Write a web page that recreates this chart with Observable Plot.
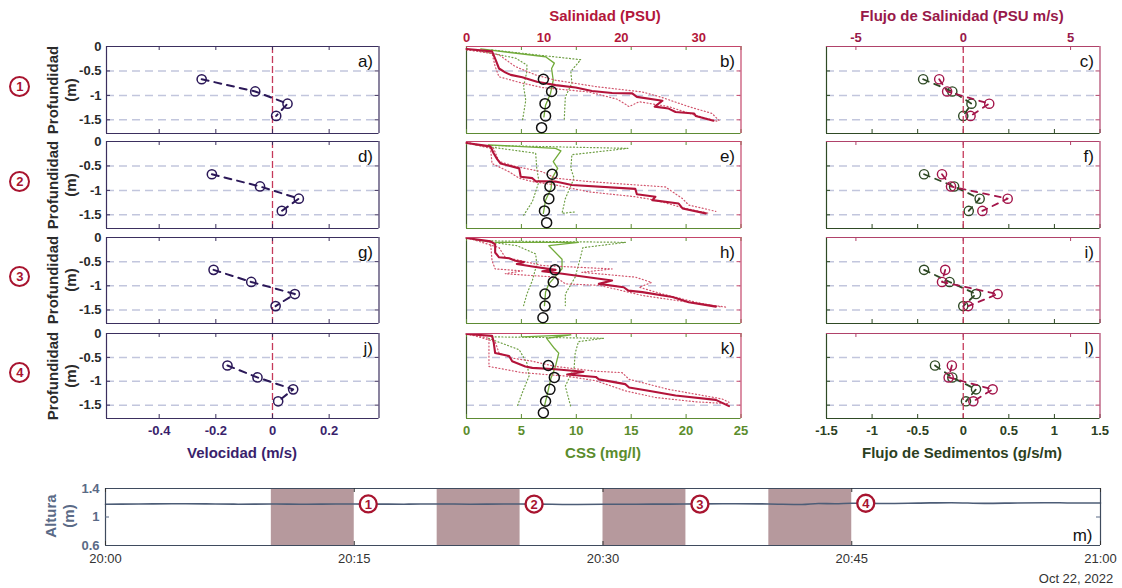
<!DOCTYPE html>
<html>
<head>
<meta charset="utf-8">
<script src="https://cdn.jsdelivr.net/npm/d3@7"></script>
<script src="https://cdn.jsdelivr.net/npm/@observablehq/plot@0.6"></script>
<style>
  body { margin: 0; background: #fff; }
  #fig { position: relative; width: 1122px; height: 588px; overflow: hidden;
         font-family: "Liberation Sans", Arial, sans-serif; background: #fff; }
  .lbl { position: absolute; white-space: nowrap; font-weight: bold; font-size: 15px; line-height: 1; }
  .circ { position: absolute; width: 17px; height: 17px; border: 2.2px solid #a8142f; border-radius: 50%;
          color: #a8142f; font: bold 13px/17px "Liberation Sans", Arial, sans-serif; text-align: center; }
</style>
</head>
<body>
<div id="fig"></div>
<script>
// ---------- data ----------
// ADCP bin depths (m) and velocity profiles (m/s) per cast
const binDepths = [-0.67, -0.92, -1.17, -1.42];
const velocity1 = [-0.250, -0.061, 0.053, 0.013];
const velocity2 = [-0.214, -0.044, 0.093, 0.033];
const velocity3 = [-0.208, -0.075, 0.079, 0.011];
const velocity4 = [-0.159, -0.053, 0.073, 0.020];

// backscatter-derived suspended sediment (mg/l) at ADCP bins
const cssBinDepths = [-0.67, -0.92, -1.17, -1.42, -1.66];
const cssBins1 = [7.0, 7.75, 7.15, 7.2, 6.84];
const cssBins2 = [7.8, 7.6, 7.5, 7.1, 7.3];
const cssBins3 = [8.06, 7.9, 7.15, 7.15, 6.96];
const cssBins4 = [7.45, 8.0, 7.6, 7.2, 7.0];

// CTD salinity profiles [PSU, depth] : mean, lower and upper envelope
const sal1 = [[0,-0.05],[3.3,-0.1],[3.75,-0.27],[4.2,-0.45],[5.0,-0.53],[5.7,-0.58],[7.2,-0.63],[9.1,-0.72],[11.5,-0.79],[14.1,-0.84],[16.2,-0.91],[18.8,-0.95],[21.4,-0.96],[22.0,-1.03],[25.3,-1.11],[24.3,-1.23],[26.1,-1.27],[27.0,-1.34],[29.4,-1.37],[29.6,-1.42],[31.9,-1.52]];
const sal1Lo = [[0,-0.07],[3.3,-0.14],[3.7,-0.41],[4.2,-0.62],[7.2,-0.75],[9.8,-0.84],[15.8,-0.93],[19.5,-1.08],[21.0,-1.23],[22.3,-1.13],[26.1,-1.23],[29.6,-1.41],[32.6,-1.54]];
const sal1Hi = [[0,-0.05],[4.2,-0.17],[6.3,-0.41],[8.9,-0.58],[11.5,-0.69],[16.7,-0.82],[22.7,-0.93],[25.0,-1.03],[28.7,-1.23],[31.7,-1.37],[32.6,-1.51]];
const sal2 = [[0,-0.03],[3.1,-0.1],[3.5,-0.24],[3.96,-0.36],[4.4,-0.45],[6.8,-0.55],[7.0,-0.72],[8.5,-0.75],[8.9,-0.81],[11.5,-0.82],[13.6,-0.89],[21.8,-0.97],[22.0,-1.08],[24.4,-1.13],[24.0,-1.2],[27.4,-1.27],[27.9,-1.37],[30.9,-1.47]];
const sal2Lo = [[0,-0.03],[3.1,-0.14],[3.3,-0.45],[5.5,-0.62],[6.8,-0.75],[8.5,-0.82],[11.5,-0.89],[15.8,-1.03],[21.8,-1.13],[24.4,-1.2],[28.3,-1.37],[31.3,-1.47]];
const sal2Hi = [[0,-0.01],[3.5,-0.14],[4.2,-0.41],[6.3,-0.51],[9.8,-0.62],[11.5,-0.75],[15.8,-0.82],[25.7,-0.93],[27.9,-1.17],[28.7,-1.3],[32.2,-1.43]];
const sal3 = [[0,-0.01],[3.1,-0.08],[3.7,-0.14],[3.7,-0.31],[4.2,-0.41],[5.5,-0.43],[6.3,-0.48],[7.4,-0.51],[6.5,-0.55],[8.5,-0.6],[11.5,-0.67],[9.8,-0.7],[12.4,-0.75],[18.8,-0.89],[17.1,-0.96],[20.3,-1.03],[20.9,-1.1],[22.7,-1.13],[26.6,-1.23],[28.7,-1.34],[32.2,-1.43]];
const sal3Lo = [[0,-0.01],[3.1,-0.1],[3.3,-0.48],[3.7,-0.65],[7.2,-0.69],[5.0,-0.75],[11.5,-0.82],[12.8,-0.96],[17.1,-0.99],[20.1,-1.1],[22.7,-1.2],[28.7,-1.34],[33.5,-1.44]];
const sal3Hi = [[0,0],[4.2,-0.21],[5.0,-0.41],[9.8,-0.58],[18.8,-0.65],[14.9,-0.72],[21.8,-0.82],[23.9,-0.93],[22.3,-1.03],[25.3,-1.17],[29.6,-1.34],[33.0,-1.44]];
const sal4 = [[0,-0.01],[3.3,-0.05],[3.5,-0.17],[3.7,-0.41],[5.5,-0.47],[5.9,-0.58],[7.6,-0.69],[8.5,-0.72],[11.5,-0.75],[15.1,-0.8],[13.0,-0.86],[16.7,-0.91],[17.1,-0.96],[20.5,-1.06],[21.0,-1.13],[23.5,-1.2],[27.0,-1.3],[32.2,-1.39],[33.9,-1.52]];
const sal4Lo = [[0,-0.01],[2.9,-0.1],[2.9,-0.69],[7.2,-0.82],[12.8,-0.89],[16.7,-0.99],[20.5,-1.2],[24.4,-1.34],[29.6,-1.43],[33.9,-1.47]];
const sal4Hi = [[0,0],[3.7,-0.17],[4.2,-0.41],[5.7,-0.51],[8.5,-0.58],[11.5,-0.69],[16.7,-0.79],[20.1,-0.82],[21.0,-0.96],[26.1,-1.17],[33.0,-1.37],[33.9,-1.44]];

// CTD turbidity-derived CSS profiles [mg/l, depth] : mean, lower and upper envelope
const css1 = [[1.3,-0.05],[7.2,-0.21],[8.0,-0.34],[7.75,-0.45],[7.9,-0.69],[7.65,-0.96],[7.2,-1.2],[7.05,-1.44]];
const css1Lo = [[0.8,-0.07],[4.5,-0.24],[5.5,-0.38],[5.5,-0.51],[5.2,-0.82],[5.4,-1.1],[5.1,-1.51]];
const css1Hi = [[2.3,-0.07],[10.4,-0.27],[9.5,-0.51],[9.6,-0.75],[9.0,-1.03],[8.9,-1.51]];
const css2 = [[2.0,-0.07],[8.1,-0.14],[8.6,-0.19],[7.9,-0.41],[8.3,-0.55],[7.8,-0.75],[7.7,-0.96],[7.2,-1.2],[7.0,-1.47]];
const css2Lo = [[0.8,-0.07],[6.3,-0.24],[6.4,-0.55],[6.6,-0.82],[6.0,-1.23],[5.2,-1.51]];
const css2Hi = [[2.0,-0.08],[14.7,-0.14],[9.6,-0.27],[9.5,-0.55],[9.8,-0.75],[9.0,-1.17],[8.7,-1.47],[9.9,-1.44]];
const css3 = [[2.6,-0.1],[10.2,-0.1],[7.5,-0.17],[8.7,-0.45],[8.7,-0.65],[7.5,-0.96],[7.2,-1.13],[7.1,-1.41]];
const css3Lo = [[0.8,-0.05],[4.6,-0.17],[6.3,-0.34],[6.4,-0.55],[6.0,-0.89],[5.5,-1.17],[5.2,-1.41]];
const css3Hi = [[2.0,-0.07],[14.5,-0.1],[10.6,-0.21],[10.3,-0.48],[9.9,-0.82],[9.0,-1.17],[9.0,-1.41]];
const css4 = [[5.1,-0.07],[9.5,-0.03],[7.3,-0.1],[8.0,-0.31],[8.4,-0.41],[8.1,-0.69],[7.7,-0.93],[7.4,-1.23],[7.1,-1.52]];
const css4Lo = [[2.0,-0.1],[4.8,-0.34],[5.5,-0.62],[5.7,-0.89],[5.1,-1.23],[4.6,-1.54]];
const css4Hi = [[2.3,-0.07],[12.5,-0.1],[10.2,-0.17],[9.9,-0.41],[9.8,-0.72],[9.0,-1.1],[9.5,-1.54]];

// fluxes at ADCP bins: salinity (PSU m/s) and sediment (g/s/m)
const salFlux1 = [-1.12, -0.75, 1.21, 0.34];
const salFlux2 = [-0.99, -0.57, 2.07, 0.89];
const salFlux3 = [-0.84, -0.99, 1.60, 0.23];
const salFlux4 = [-0.53, -0.68, 1.37, 0.47];
const sedFlux1 = [-0.44, -0.12, 0.09, 0.00];
const sedFlux2 = [-0.43, -0.10, 0.18, 0.06];
const sedFlux3 = [-0.43, -0.15, 0.14, 0.00];
const sedFlux4 = [-0.31, -0.12, 0.14, 0.03];

// water level (m) vs minutes after 20:00, 22 Oct 2022
const levelMinutes = [0,2,4,6,8,10,12,14,16,18,20,22,24,26,28,30,32,34,36,38,40,42,43,44,45,47,49,51,53,55,57,58,60];
const levelValues  = [1.180,1.182,1.186,1.184,1.180,1.182,1.179,1.183,1.181,1.180,1.183,1.180,1.182,1.181,1.176,1.179,1.180,1.181,1.184,1.186,1.183,1.176,1.190,1.186,1.193,1.190,1.195,1.201,1.191,1.197,1.201,1.197,1.196];
// profiling windows (minutes after 20:00)
const castStart = [10, 20, 30, 40];
const castEnd   = [15, 25, 35, 45];
const castLabels = ["1", "2", "3", "4"];

// tick values
const depthTicks = [0, -0.5, -1, -1.5];
const gridDepths = [-0.5, -1, -1.5];
const velTicks = [-0.4, -0.2, 0, 0.2];
const salTicks = [0, 10, 20, 30];
const cssTicks = [0, 5, 10, 15, 20, 25];
const salFluxTicks = [-5, 0, 5];
const sedFluxTicks = [-1.5, -1, -0.5, 0, 0.5, 1, 1.5];
const levelTicks = [0.6, 1, 1.4];

// ---------- styling ----------
const FONT = '"Liberation Sans", Arial, sans-serif';
const PURPLE = "#2b1858", PURPLE_T = "#3a1f6c", PURPLE_F = "#3b2f5e";
const RED = "#b3143a", RED_DOT = "#d2566e", RED_F = "#c4456a", RED_T = "#b3173b";
const GREEN = "#72ab3a", GREEN_DOT = "#6f9f45", GREEN_F = "#5d8b33", GREEN_T = "#5b8c2c";
const MAROON = "#a3154a", MAROON_F = "#b0426a", MAROON_T = "#98194a";
const DKGREEN = "#2f4a25", DKGREEN_T = "#2c3f22";
const GRID_C = "#c2c6dd", ZERO_C = "#c5395a";
const SLATE = "#4d5d77", SLATE_T = "#5a6a86";
const DOTS = "1,2.4";

const ROW_TOP = [46, 141, 237, 333];
const ROW_H = [87, 87, 86, 85];
const DEPTH_DOMAIN = [-1.78, 0];
const COL = {
  vel: {left: 105.5, w: 272.5, domain: [-0.586, 0.376]},
  mid: {left: 466, w: 274.5},
  flx: {left: 826, w: 273.5}
};
const SAL_DOMAIN = [0, 35.45], CSS_DOMAIN = [0, 25];
const SALF_DOMAIN = [-6.37, 6.37], SEDF_DOMAIN = [-1.5, 1.5];

const fig = document.getElementById("fig");
const M = 34;

function panel({left, top, w, h, xd, yd, xtype, marks}) {
  const svg = Plot.plot({
    width: w + 2 * M, height: h + 2 * M, margin: M,
    x: {domain: xd, axis: null, type: xtype || "linear"},
    y: {domain: yd, axis: null},
    style: {background: "none", overflow: "visible", fontFamily: FONT, color: "#222"},
    marks
  });
  svg.style.position = "absolute";
  svg.style.left = (left - M) + "px";
  svg.style.top = (top - M) + "px";
  svg.style.maxWidth = "none";
  fig.append(svg);
}

// helpers for frame sides and inward ticks
const sideTop = (yd, c) => Plot.ruleY([yd[1]], {stroke: c, strokeWidth: 1.2});
const sideBottom = (yd, c) => Plot.ruleY([yd[0]], {stroke: c, strokeWidth: 1.2});
const sideLeft = (xd, c) => Plot.ruleX([xd[0]], {stroke: c, strokeWidth: 1.2});
const sideRight = (xd, c) => Plot.ruleX([xd[1]], {stroke: c, strokeWidth: 1.2});
const ticksTop = (vals, h, c) => Plot.ruleX(vals, {stroke: c, insetBottom: h - 4});
const ticksBottom = (vals, h, c) => Plot.ruleX(vals, {stroke: c, insetTop: h - 4});
const ticksLeft = (vals, w, c) => Plot.ruleY(vals, {stroke: c, insetRight: w - 4});
const ticksRight = (vals, w, c) => Plot.ruleY(vals, {stroke: c, insetLeft: w - 4});
const grid = () => Plot.ruleY(gridDepths, {stroke: GRID_C, strokeDasharray: "8,5", strokeWidth: 1.5});
const letter = (t) => Plot.text([t], {frameAnchor: "top-right", text: d => d, dx: -6, dy: 8, lineAnchor: "top", fontSize: 17, fill: "#111"});
const num = d => String(d);
const pv = d => d[0], pz = d => d[1];

const velocities = [velocity1, velocity2, velocity3, velocity4];
const cssBins = [cssBins1, cssBins2, cssBins3, cssBins4];
const sals = [[sal1, sal1Lo, sal1Hi], [sal2, sal2Lo, sal2Hi], [sal3, sal3Lo, sal3Hi], [sal4, sal4Lo, sal4Hi]];
const csss = [[css1, css1Lo, css1Hi], [css2, css2Lo, css2Hi], [css3, css3Lo, css3Hi], [css4, css4Lo, css4Hi]];
const salFluxes = [salFlux1, salFlux2, salFlux3, salFlux4];
const sedFluxes = [sedFlux1, sedFlux2, sedFlux3, sedFlux4];
const letters = [["a)", "b)", "c)"], ["d)", "e)", "f)"], ["g)", "h)", "i)"], ["j)", "k)", "l)"]];

for (let r = 0; r < 4; r++) {
  const top = ROW_TOP[r], h = ROW_H[r];
  const first = r === 0, last = r === 3;

  // --- velocity column ---
  const vd = COL.vel.domain;
  const vel = velocities[r].map((v, i) => ({v, z: binDepths[i]}));
  panel({left: COL.vel.left, top, w: COL.vel.w, h, xd: vd, yd: DEPTH_DOMAIN, marks: [
    grid(),
    Plot.ruleX([0], {stroke: ZERO_C, strokeDasharray: "7,3", strokeWidth: 1.3}),
    Plot.line(vel, {x: "v", y: "z", stroke: PURPLE, strokeWidth: 2, strokeDasharray: "7,6"}),
    Plot.dot(vel, {x: "v", y: "z", r: 4.6, stroke: PURPLE, strokeWidth: 1.5, fill: "none"}),
    sideTop(DEPTH_DOMAIN, PURPLE_F), sideBottom(DEPTH_DOMAIN, PURPLE_F),
    sideLeft(vd, PURPLE_F), sideRight(vd, PURPLE_F),
    ticksTop(velTicks, h, PURPLE_F), ticksBottom(velTicks, h, PURPLE_F),
    ticksLeft(gridDepths, COL.vel.w, PURPLE_F), ticksRight(gridDepths, COL.vel.w, PURPLE_F),
    Plot.axisY({anchor: "left", ticks: depthTicks, tickSize: 0, tickPadding: 5, tickFormat: num,
                fontSize: 13, fontWeight: "bold", color: "#2a2a2a", label: null}),
    last ? Plot.axisX({anchor: "bottom", ticks: velTicks, tickSize: 0, tickPadding: 7, tickFormat: num,
                fontSize: 13, fontWeight: "bold", color: PURPLE_T, label: null}) : null,
    letter(letters[r][0])
  ]});

  // --- CSS layer of the middle column ---
  const [cLine, cLo, cHi] = csss[r];
  const circ = cssBins[r].map((v, i) => ({v, z: cssBinDepths[i]}));
  panel({left: COL.mid.left, top, w: COL.mid.w, h, xd: CSS_DOMAIN, yd: DEPTH_DOMAIN, marks: [
    grid(),
    Plot.line(cLo, {x: pv, y: pz, stroke: GREEN_DOT, strokeWidth: 1.2, strokeDasharray: DOTS}),
    Plot.line(cHi, {x: pv, y: pz, stroke: GREEN_DOT, strokeWidth: 1.2, strokeDasharray: DOTS}),
    Plot.line(cLine, {x: pv, y: pz, stroke: GREEN, strokeWidth: 1.3}),
    sideBottom(DEPTH_DOMAIN, GREEN_F), sideLeft(CSS_DOMAIN, "#3d5a2a"),
    ticksBottom(cssTicks, h, GREEN_F), ticksTop(cssTicks, h, GREEN_F),
    last ? Plot.axisX({anchor: "bottom", ticks: cssTicks, tickSize: 0, tickPadding: 7, tickFormat: num,
                fontSize: 13, fontWeight: "bold", color: GREEN_T, label: null}) : null
  ]});

  // --- salinity layer of the middle column ---
  const [sLine, sLo, sHi] = sals[r];
  panel({left: COL.mid.left, top, w: COL.mid.w, h, xd: SAL_DOMAIN, yd: DEPTH_DOMAIN, marks: [
    Plot.line(sLo, {x: pv, y: pz, stroke: RED_DOT, strokeWidth: 1.2, strokeDasharray: DOTS}),
    Plot.line(sHi, {x: pv, y: pz, stroke: RED_DOT, strokeWidth: 1.2, strokeDasharray: DOTS}),
    Plot.line(sLine, {x: pv, y: pz, stroke: RED, strokeWidth: 2.1}),
    sideTop(DEPTH_DOMAIN, RED_F), sideRight(SAL_DOMAIN, RED_F),
    ticksRight(gridDepths, COL.mid.w, RED_F),
    first ? Plot.axisX({anchor: "top", ticks: salTicks, tickSize: 0, tickPadding: 5, tickFormat: num,
                fontSize: 13, fontWeight: "bold", color: RED_T, label: null}) : null,
    letter(letters[r][1])
  ]});
  // bin circles drawn last so they sit above both profiles
  panel({left: COL.mid.left, top, w: COL.mid.w, h, xd: CSS_DOMAIN, yd: DEPTH_DOMAIN, marks: [
    Plot.dot(circ, {x: "v", y: "z", r: 5, stroke: "#111", strokeWidth: 1.5, fill: "none"})
  ]});

  // --- sediment flux layer of the right column ---
  const sed = sedFluxes[r].map((v, i) => ({v, z: binDepths[i]}));
  panel({left: COL.flx.left, top, w: COL.flx.w, h, xd: SEDF_DOMAIN, yd: DEPTH_DOMAIN, marks: [
    grid(),
    Plot.line(sed, {x: "v", y: "z", stroke: DKGREEN, strokeWidth: 1.8, strokeDasharray: "6,6"}),
    Plot.dot(sed, {x: "v", y: "z", r: 4.6, stroke: DKGREEN, strokeWidth: 1.4, fill: "none"}),
    sideBottom(DEPTH_DOMAIN, DKGREEN), sideLeft(SEDF_DOMAIN, DKGREEN),
    ticksBottom(sedFluxTicks, h, DKGREEN), ticksLeft(gridDepths, COL.flx.w, DKGREEN),
    last ? Plot.axisX({anchor: "bottom", ticks: sedFluxTicks, tickSize: 0, tickPadding: 7, tickFormat: num,
                fontSize: 13, fontWeight: "bold", color: DKGREEN_T, label: null}) : null
  ]});

  // --- salinity flux layer of the right column ---
  const salf = salFluxes[r].map((v, i) => ({v, z: binDepths[i]}));
  panel({left: COL.flx.left, top, w: COL.flx.w, h, xd: SALF_DOMAIN, yd: DEPTH_DOMAIN, marks: [
    Plot.ruleX([0], {stroke: ZERO_C, strokeDasharray: "7,3", strokeWidth: 1.3}),
    Plot.line(salf, {x: "v", y: "z", stroke: MAROON, strokeWidth: 1.8, strokeDasharray: "6,6"}),
    Plot.dot(salf, {x: "v", y: "z", r: 4.6, stroke: MAROON, strokeWidth: 1.4, fill: "none"}),
    sideTop(DEPTH_DOMAIN, MAROON_F), sideRight(SALF_DOMAIN, MAROON_F),
    ticksTop(salFluxTicks, h, MAROON_F), ticksRight(gridDepths, COL.flx.w, MAROON_F),
    first ? Plot.axisX({anchor: "top", ticks: salFluxTicks, tickSize: 0, tickPadding: 5, tickFormat: num,
                fontSize: 13, fontWeight: "bold", color: MAROON_T, label: null}) : null,
    letter(letters[r][2])
  ]});
}

// ---------- water level time series ----------
const t0 = Date.UTC(2022, 9, 22, 20, 0);
const at = m => new Date(t0 + m * 60000);
const level = levelMinutes.map((m, i) => ({t: at(m), h: levelValues[i]}));
const casts = castStart.map((s, i) => ({t1: at(s), t2: at(castEnd[i]), label: castLabels[i]}));
const castMarks = casts.map(c => ({t: c.t2, h: d3.least(level, d => Math.abs(d.t - c.t2)).h, label: c.label}));
const timeTicks = d3.range(0, 61, 15).map(at);
const LV_DOMAIN = [0.6, 1.4];
const lvW = 995, lvH = 57;
panel({left: 105, top: 488, w: lvW, h: lvH, xd: [at(0), at(60)], yd: LV_DOMAIN, xtype: "utc", marks: [
  Plot.rect(casts, {x1: "t1", x2: "t2", y1: LV_DOMAIN[0], y2: LV_DOMAIN[1], fill: "#b6999d"}),
  Plot.line(level, {x: "t", y: "h", stroke: SLATE, strokeWidth: 1.6, curve: "monotone-x"}),
  sideTop(LV_DOMAIN, "#3f4b5e"), sideBottom(LV_DOMAIN, "#3f4b5e"),
  sideLeft([at(0), at(60)], "#3f4b5e"), sideRight([at(0), at(60)], "#3f4b5e"),
  ticksTop(timeTicks, lvH, "#333"), ticksBottom(timeTicks, lvH, "#333"),
  ticksLeft([1], lvW, SLATE_T), ticksRight([1], lvW, SLATE_T),
  Plot.dot(castMarks, {x: "t", y: "h", dx: 14, r: 8.5, stroke: "#a8142f", strokeWidth: 2.3, fill: "white"}),
  Plot.text(castMarks, {x: "t", y: "h", dx: 14, dy: 0.5, text: "label", fill: "#a8142f", fontSize: 13, fontWeight: "bold"}),
  Plot.axisY({anchor: "left", ticks: levelTicks, tickSize: 0, tickPadding: 6, tickFormat: num,
              fontSize: 13, fontWeight: "bold", color: SLATE_T, label: null}),
  Plot.axisX({anchor: "bottom", ticks: timeTicks, tickSize: 0, tickPadding: 8, tickFormat: d3.utcFormat("%H:%M"),
              fontSize: 13, color: "#333", label: null}),
  Plot.text(["m)"], {frameAnchor: "bottom-right", text: d => d, dx: -8, dy: -5, lineAnchor: "bottom", fontSize: 17, fill: "#111"})
]});

// ---------- titles and row labels ----------
function label(text, cx, cy, color, opts = {}) {
  const d = document.createElement("div");
  d.className = "lbl";
  d.textContent = text;
  d.style.left = cx + "px";
  d.style.top = cy + "px";
  d.style.color = color;
  if (opts.size) d.style.fontSize = opts.size + "px";
  if (opts.weight) d.style.fontWeight = opts.weight;
  d.style.transform = "translate(-50%,-50%)" + (opts.rotate ? " rotate(-90deg)" : "");
  fig.append(d);
}
function circled(text, cx, cy) {
  const d = document.createElement("div");
  d.className = "circ";
  d.textContent = text;
  d.style.left = (cx - 10.7) + "px";
  d.style.top = (cy - 10.7) + "px";
  fig.append(d);
}

label("Salinidad (PSU)", 605, 15, RED_T);
label("Flujo de Salinidad (PSU m/s)", 962, 15, MAROON_T);
label("Velocidad (m/s)", 242, 452, PURPLE_T);
label("CSS (mg/l)", 603, 452, GREEN_T);
label("Flujo de Sedimentos (g/s/m)", 962, 452, DKGREEN_T);
for (let r = 0; r < 4; r++) {
  const cy = ROW_TOP[r] + ROW_H[r] / 2;
  label("Profundidad", 52, cy, "#2b2b2b", {rotate: true});
  label("(m)", 70, cy, "#2b2b2b", {rotate: true});
  circled(castLabels[r], 20, cy - 3);
}
label("Altura", 50, 516, SLATE_T, {rotate: true});
label("(m)", 68, 516, SLATE_T, {rotate: true});
label("Oct 22, 2022", 1076, 578, "#333", {size: 13, weight: "normal"});
</script>
</body>
</html>
